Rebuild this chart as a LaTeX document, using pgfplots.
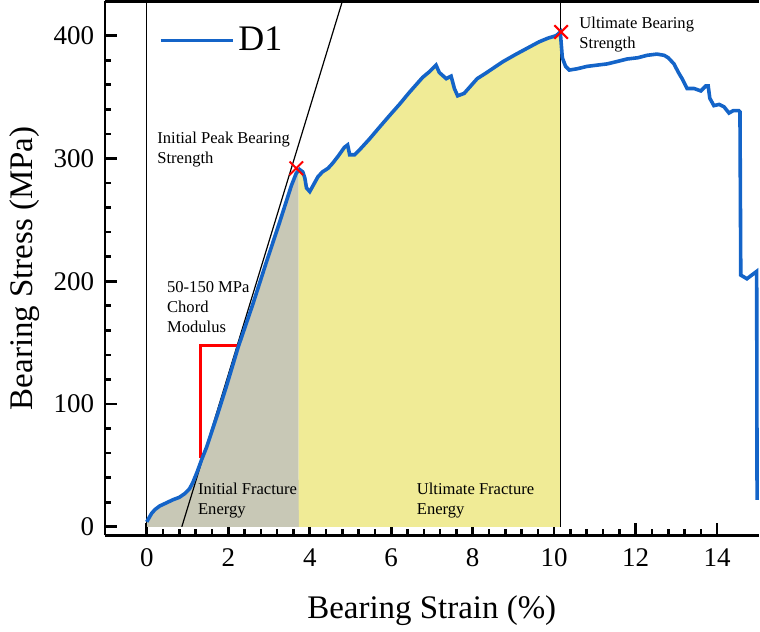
\documentclass[border=0pt]{standalone}
\usepackage{fontspec}
\setmainfont{Liberation Serif}
\usepackage{pgfplots}
\pgfplotsset{compat=1.18}
\usepackage{pgfplotstable}
\usepgfplotslibrary{fillbetween}

\definecolor{curveblue}{RGB}{20,100,200}
\definecolor{initgrey}{RGB}{200,200,182}
\definecolor{ultyellow}{RGB}{240,235,150}

% bearing stress-strain curve, D1 (strain %, stress MPa)
\pgfplotstableread{
x y
0.00 4
0.05 7
0.12 11
0.20 14
0.32 17
0.45 19
0.64 22
0.80 24
0.93 27
1.05 31
1.13 36
1.24 45
1.35 55
1.47 65
1.59 77
1.75 93
1.96 115
2.24 146
2.60 181
2.93 215
3.26 248
3.55 278
3.67 288
3.75 291
3.83 289
3.88 284
3.92 276
4.00 273
4.10 279
4.20 285
4.31 289
4.45 292
4.56 296
4.70 302
4.85 309
4.93 311
4.98 303
5.10 303
5.25 308
5.47 316
5.70 325
5.96 335
6.20 344
6.45 354
6.77 366
6.95 371
7.10 376
7.18 370
7.35 365
7.47 367
7.55 357
7.63 351
7.79 353
7.95 359
8.11 365
8.30 369
8.48 373
8.75 379
9.07 385
9.35 390
9.63 395
9.85 398
10.05 400
10.15 403
10.20 382
10.28 375
10.37 372
10.56 373
10.81 375
11.05 376
11.30 377
11.55 379
11.79 381
12.05 382
12.28 384
12.52 385
12.70 384
12.80 382
12.94 377
13.05 370
13.14 365
13.26 357
13.43 357
13.60 355
13.72 359
13.78 359
13.82 349
13.92 343
14.05 344
14.17 342
14.29 337
14.40 339
14.53 339
14.56 338
14.58 205
14.73 202
14.85 205
14.97 208
14.98 22
}\curve

\begin{document}
\begin{tikzpicture}
\begin{axis}[
    scale only axis,
    width=327.5pt, height=267.5pt,
    xmin=-1.03, xmax=15.02,
    ymin=-7, ymax=428,
    axis x line*=bottom,
    axis y line*=left,
    axis line style={line width=1.3pt},
    clip=false,
    xtick={0,2,...,14},
    ytick={0,100,200,300,400},
    minor x tick num=4,
    minor y tick num=4,
    tick align=inside,
    major tick length=6pt,
    minor tick length=3pt,
    tick style={line width=1.3pt, black},
    /pgf/number format/assume math mode=true,
    ticklabel style={font=\fontsize{13.5}{13.5}\selectfont},
    xticklabel style={yshift=-3pt},
    yticklabel style={xshift=-1.8pt},
    xlabel={Bearing Strain (\%)},
    ylabel={Bearing Stress (MPa)},
    xlabel style={yshift=-7.5pt},
    label style={font=\fontsize{16.5}{16.5}\selectfont},
    legend style={draw=none, fill=none, at={(0.082,0.96)}, anchor=north west,
        font=\fontsize{18}{18}\selectfont, inner sep=0pt},
    legend cell align=left,
    legend image code/.code={\draw[#1] (0pt,0pt) -- (36pt,0pt);},
]
% invisible copy of the curve for the fills
\addplot[draw=none, name path=curve, forget plot] table {\curve};
\path[name path=base] (axis cs:0,0) -- (axis cs:15,0);
\addplot[initgrey, forget plot] fill between[of=curve and base, soft clip={domain=0:3.73}];
\addplot[ultyellow, forget plot] fill between[of=curve and base, soft clip={domain=3.73:10.16}];

% guide lines
\addplot[black, line width=0.5pt, forget plot] coordinates {(0,0) (0,428)};
\addplot[black, line width=0.5pt, forget plot] coordinates {(10.16,0) (10.16,428)};
\addplot[black, line width=0.6pt, forget plot] coordinates {(0.86,0) (4.80,428)};
\addplot[red, line width=1.5pt, forget plot] coordinates {(1.33,56) (1.33,148) (2.27,148)};

\addplot[curveblue, line width=1.8pt] table {\curve};
\addlegendentry{D1}

\addplot[only marks, mark=x, red, mark size=4.8pt, line width=1pt, forget plot]
    coordinates {(3.67,292) (10.17,403)};

\draw[line width=1.3pt] (rel axis cs:0,1) -- (rel axis cs:1,1);

\begin{scope}[every node/.style={font=\fontsize{8.3}{10}\selectfont, align=left, anchor=west, inner sep=0pt}]
\node at (axis cs:0.25,307) {Initial Peak Bearing\\Strength};
\node at (axis cs:0.49,179) {50-150 MPa\\Chord\\Modulus};
\node at (axis cs:1.25,21) {Initial Fracture\\Energy};
\node at (axis cs:6.62,21) {Ultimate Fracture\\Energy};
\node at (axis cs:10.61,401) {Ultimate Bearing\\Strength};
\end{scope}
\end{axis}
\path (current axis.south west) ++(-52.5pt,0pt) (current axis.north east);
\end{tikzpicture}
\end{document}
